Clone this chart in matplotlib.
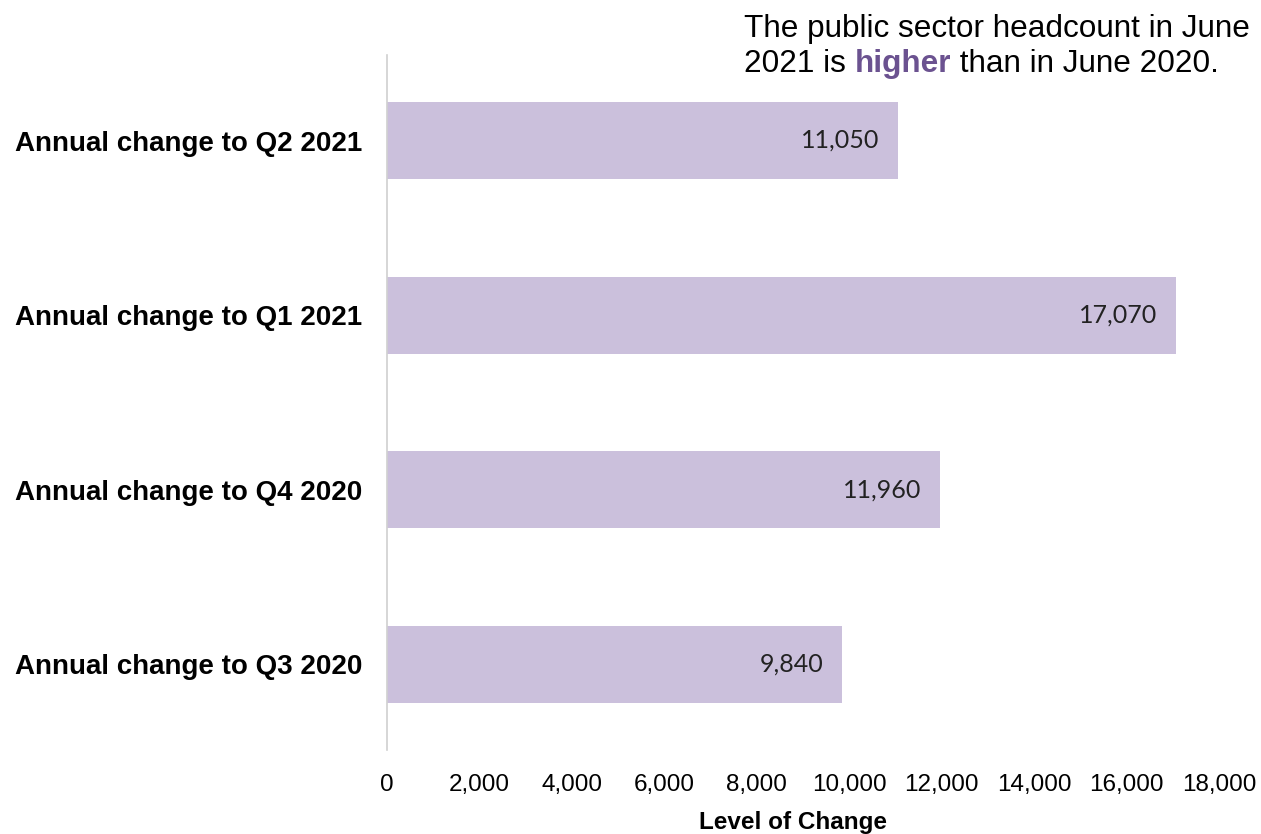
import matplotlib
matplotlib.use("Agg")
import matplotlib.pyplot as plt
from matplotlib.ticker import FuncFormatter

# chart data
categories = [
    "Annual change to Q3 2020",
    "Annual change to Q4 2020",
    "Annual change to Q1 2021",
    "Annual change to Q2 2021",
]
values = [9840, 11960, 17070, 11050]
x_ticks = [0, 2000, 4000, 6000, 8000, 10000, 12000, 14000, 16000, 18000]

bar_color = "#CBC0DC"
accent = "#6B5290"

plt.rcParams["font.family"] = ["Liberation Sans", "DejaVu Sans"]

fig = plt.figure(figsize=(12.61, 8.34), dpi=100)
ax = fig.add_axes([387 / 1261, 1 - 750 / 834, (1219 - 387) / 1261, (750 - 55) / 834])

ypos = list(range(len(categories)))
ax.barh(ypos, values, height=0.44, color=bar_color)

# value labels inside bar ends
for y, v in zip(ypos, values):
    ax.text(v - 400, y, f"{v:,}", ha="right", va="center",
            fontsize=18, family="Lato", color="#222222")

ax.set_xlim(0, 18000)
ax.set_ylim(-0.49, 3.49)
ax.set_yticks(ypos)
ax.set_yticklabels(categories, fontsize=20, fontweight="bold")
ax.set_xticks(x_ticks)
ax.xaxis.set_major_formatter(FuncFormatter(lambda v, p: f"{int(v):,}"))
ax.tick_params(axis="x", length=0, labelsize=17.5, pad=17)
ax.tick_params(axis="y", length=0, pad=18)

for side in ["top", "right", "bottom"]:
    ax.spines[side].set_visible(False)
ax.spines["left"].set_color("#D0D0D0")
ax.spines["left"].set_linewidth(1.2)

ax.set_xlabel("Level of Change", fontsize=17.5, fontweight="bold")
ax.xaxis.set_label_coords((793 - 387) / (1219 - 387), -(823 - 750) / (750 - 55))
ax.xaxis.label.set_va("center")

# annotation in the top right
fs = 22.7
fig.text(744 / 1261, 1 - 29 / 834, "The public sector headcount in June",
         fontsize=fs, va="center", ha="left")
t1 = fig.text(744 / 1261, 1 - 64 / 834, "2021 is ", fontsize=fs,
              va="center", ha="left")
fig.canvas.draw()
r = fig.canvas.get_renderer()
bb = t1.get_window_extent(r)
t2 = fig.text(bb.x1 / fig.bbox.width, 1 - 64 / 834, "higher", fontsize=fs,
              fontweight="bold", color=accent, va="center", ha="left")
bb2 = t2.get_window_extent(r)
fig.text(bb2.x1 / fig.bbox.width, 1 - 64 / 834, " than in June 2020.",
         fontsize=fs, va="center", ha="left")

fig.savefig("out.png", dpi=100)
